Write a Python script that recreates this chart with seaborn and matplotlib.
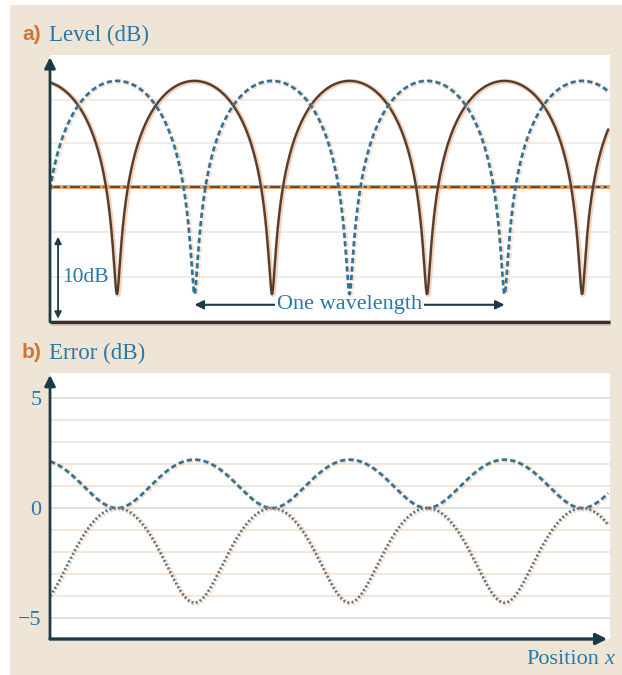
import numpy as np
import pandas as pd
import matplotlib
matplotlib.use("Agg")
import matplotlib.pyplot as plt
import matplotlib.patheffects as pe
from matplotlib.patches import Rectangle
import seaborn as sns

# ---- values (positions in wavelengths, levels in dB) ----
x_end = 1.80                        # last traced position
x_axis_end = 1.806                  # right end of both axes
phase_offset = 0.034                # pressure maximum sits just left of x = 0
node_floor_db = -26.0               # depth of the pressure / velocity nulls
reference_level_db = -12.9          # dash-dot reference level
grid_levels_a = [-2.3, -7.6, -18.4, -23.9]
scale_bar_db = [-29.0, -19.0]       # "10 dB" scale bar
wavelength_span = [0.466, 1.466]    # two neighbouring nulls of the dashed trace
wavelength_label_db = -27.3
error_extremes_db = [2.2, -4.3]     # largest error of the dashed / dotted estimate
error_ticks = [-5, 0, 5]
error_tick_labels = ["\u22125", "0", "5"]
error_grid = list(range(-5, 6))

# ---- colours ----
BG = "#efe5d6"
AXIS = "#1d3a48"
BROWN = "#513e33"
BLUE = "#2a7399"
DOT = "#5a7482"
HALO = "#f2ad80"
TXT = "#2a78a6"
LABEL = "#cf7631"
SERIF = ["Liberation Serif", "DejaVu Serif"]

sns.set_theme(style="white")
plt.rcParams["font.family"] = SERIF

# ---- traces ----
x = np.linspace(0.0, x_end, 1600)
c2 = np.cos(2 * np.pi * (x + phase_offset)) ** 2
eps = 10 ** (node_floor_db / 10)
gain_hi = 10 ** (error_extremes_db[0] / 10) - 1
gain_lo = 1 - 10 ** (error_extremes_db[1] / 10)

level = pd.DataFrame({
    "x": x,
    "solid": 10 * np.log10(c2 + eps),
    "dashed": 10 * np.log10(1 - c2 + eps),
})
error = pd.DataFrame({
    "x": x,
    "dashed": 10 * np.log10(1 + gain_hi * c2),
    "dotted": 10 * np.log10(1 - gain_lo * c2),
})


def halo(lw, alpha=0.55):
    return [pe.Stroke(linewidth=lw + 1.8, foreground=HALO, alpha=alpha,
                      offset=(0.6, -0.4)), pe.Normal()]


W, H = 622, 675
fig = plt.figure(figsize=(W / 100, H / 100), dpi=100, facecolor="white")
fig.patches.append(Rectangle((10 / W, 0), 1 - 10 / W, 1 - 5 / H,
                             transform=fig.transFigure, facecolor=BG,
                             edgecolor="none", zorder=-10))


def px_axes(left, top, right, bottom):
    return fig.add_axes([left / W, 1 - bottom / H, (right - left) / W,
                         (bottom - top) / H])


# ================= a) Level =================
ax = px_axes(50, 55, 610, 322)
ax.set_facecolor("white")
ax.set_xlim(0, x_axis_end)
ax.set_ylim(-29.4, 3.17)
for s in ax.spines.values():
    s.set_visible(False)
ax.set_xticks([])
ax.set_yticks([])
for g in grid_levels_a:
    ax.axhline(g, color="#f0e8e2", lw=1.2, zorder=0)

ax.axhline(reference_level_db, color="#f09a5c", lw=2.8, zorder=1)
ax.axhline(reference_level_db, color=AXIS, lw=1.1,
           linestyle=(0, (6.5, 2.2, 2.2, 2.2)), zorder=1.5)

sns.lineplot(data=level, x="x", y="solid", ax=ax, color=BROWN, lw=1.7,
             sort=False, path_effects=halo(1.7), zorder=3)
sns.lineplot(data=level, x="x", y="dashed", ax=ax, color=BLUE, lw=1.9,
             linestyle=(0, (2.0, 1.2)), sort=False,
             path_effects=halo(1.9, 0.4), zorder=3)
ax.set_xlabel("")
ax.set_ylabel("")

# axes drawn as arrows / lines
ax.annotate("", xy=(0, 2.9), xytext=(0, -29.4),
            arrowprops=dict(arrowstyle="-|>", color=AXIS, lw=2,
                            mutation_scale=16, shrinkA=0, shrinkB=0),
            annotation_clip=False, zorder=5)
ax.plot([0, x_axis_end], [-29.4, -29.4], color=AXIS, lw=2.4,
        solid_capstyle="butt", clip_on=False, zorder=5,
        path_effects=halo(2.4))

# 10 dB scale bar
ax.annotate("", xy=(0.026, scale_bar_db[0]), xytext=(0.026, scale_bar_db[1]),
            arrowprops=dict(arrowstyle="<|-|>", color=AXIS, lw=1.3,
                            mutation_scale=10, shrinkA=0, shrinkB=0), zorder=4)
ax.text(0.04, np.mean(scale_bar_db), "10dB", color=TXT, fontsize=15.5,
        ha="left", va="center", family=SERIF)

# one wavelength marker
ax.annotate("", xy=(wavelength_span[0], wavelength_label_db),
            xytext=(wavelength_span[1], wavelength_label_db),
            arrowprops=dict(arrowstyle="<|-|>", color=AXIS, lw=1.5,
                            mutation_scale=13, shrinkA=0, shrinkB=0), zorder=2)
ax.text(np.mean(wavelength_span), wavelength_label_db, "One wavelength",
        color=TXT, fontsize=16, ha="center", va="center", family=SERIF,
        bbox=dict(facecolor="white", edgecolor="none", pad=1.5), zorder=2.5)

# ================= b) Error =================
bx = px_axes(50, 373, 610, 639)
bx.set_facecolor("white")
bx.set_xlim(0, x_axis_end)
bx.set_ylim(-5.95, 6.14)
for s in bx.spines.values():
    s.set_visible(False)
bx.set_xticks([])
bx.set_yticks(error_ticks)
bx.set_yticklabels(error_tick_labels, family=SERIF, fontsize=16, color=TXT)
bx.tick_params(axis="y", length=0, pad=6)
for g in error_grid:
    major = g in error_ticks
    bx.axhline(g, color="#d5dadb" if major else "#f4e4d9",
               lw=1.1 if major else 1.3, zorder=0)

sns.lineplot(data=error, x="x", y="dashed", ax=bx, color=BLUE, lw=1.9,
             linestyle=(0, (2.0, 1.2)), sort=False,
             path_effects=halo(1.9, 0.4), zorder=3)
sns.lineplot(data=error, x="x", y="dotted", ax=bx, color=DOT, lw=1.8,
             linestyle=(0, (0.8, 0.9)), sort=False,
             path_effects=halo(1.8), zorder=3)
bx.set_xlabel("")
bx.set_ylabel("")

bx.annotate("", xy=(0, 6.05), xytext=(0, -5.95),
            arrowprops=dict(arrowstyle="-|>", color=AXIS, lw=2,
                            mutation_scale=16, shrinkA=0, shrinkB=0),
            annotation_clip=False, zorder=5)
bx.annotate("", xy=(1.797, -5.95), xytext=(0, -5.95),
            arrowprops=dict(arrowstyle="-|>", color=AXIS, lw=2.4,
                            mutation_scale=16, shrinkA=0, shrinkB=0),
            annotation_clip=False, zorder=5)

# ---- panel titles and axis label ----
SANS = ["Liberation Sans", "DejaVu Sans"]
fig.text(22 / W, 1 - 35 / H, "a)", color=LABEL, fontsize=15,
         fontweight="bold", family=SANS, ha="left", va="center")
fig.text(49 / W, 1 - 35 / H, "Level (dB)", color=TXT, fontsize=16.5,
         family=SERIF, ha="left", va="center")
fig.text(22 / W, 1 - 353 / H, "b)", color=LABEL, fontsize=15,
         fontweight="bold", family=SANS, ha="left", va="center")
fig.text(49 / W, 1 - 353 / H, "Error (dB)", color=TXT, fontsize=16.5,
         family=SERIF, ha="left", va="center")
fig.text(614 / W, 1 - 660 / H, "x", color=TXT, fontsize=16, style="italic",
         family=SERIF, ha="right", va="center")
fig.text(599 / W, 1 - 660 / H, "Position", color=TXT, fontsize=16,
         family=SERIF, ha="right", va="center")

fig.savefig("out.png", dpi=100, facecolor="white")
